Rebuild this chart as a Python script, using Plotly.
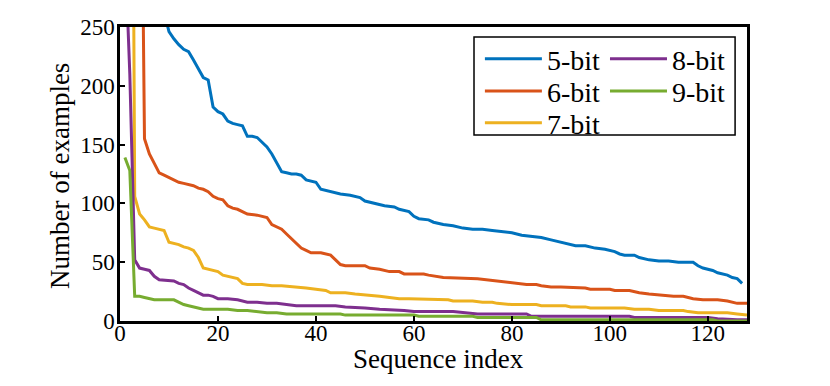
import plotly.graph_objects as go

# sequence index / number of examples (breakpoints of each curve)
x_5bit = [1, 2, 3, 4, 5, 6, 7, 8, 9, 10, 11, 12, 13, 14, 15, 16, 17, 18, 19, 20,
          21, 22, 23, 24, 25, 26, 27, 28, 29, 30, 31, 32, 33, 34, 35, 36, 37, 38, 39, 40,
          41, 42, 43, 45, 47, 49, 50, 52, 54, 56, 57, 59, 60, 61, 63, 64, 66, 68, 70, 72,
          74, 76, 78, 80, 82, 84, 86, 88, 90, 92, 93, 95, 97, 99, 101, 102, 103, 105, 106, 108,
          110, 112, 114, 117, 118, 119, 121, 122, 123, 124, 125, 126, 127]
y_5bit = [820, 640, 520, 430, 370, 330, 300, 280, 262, 246, 240, 235, 231, 229, 222, 215, 207, 205, 182, 178,
          176, 170, 168, 167, 166, 157, 157, 156, 152, 148, 142, 135, 127, 126, 125, 125, 124, 120, 119, 118,
          112, 111, 110, 108, 107, 105, 102, 100, 98, 97, 95, 93, 89, 87, 86, 84, 82, 81, 79, 78,
          78, 77, 76, 75, 73, 72, 71, 69, 67, 65, 64, 64, 62, 61, 59, 57, 56, 56, 54, 52,
          51, 51, 50, 50, 47, 45, 43, 41, 40, 39, 37, 36, 32]

x_6bit = [1, 2, 3, 4, 5, 6, 7, 8, 9, 10, 11, 12, 13, 15, 16, 17, 18, 19, 20, 21,
          22, 23, 24, 25, 26, 28, 29, 30, 31, 32, 33, 34, 35, 36, 37, 38, 39, 41, 42, 43,
          44, 45, 46, 50, 51, 53, 55, 57, 58, 62, 63, 65, 66, 73, 75, 76, 79, 81, 83, 85,
          86, 88, 90, 95, 96, 100, 101, 104, 106, 108, 111, 113, 115, 117, 119, 122, 124, 125, 126, 128]
y_6bit = [1500, 1100, 800, 560, 155, 142, 134, 126, 124, 122, 120, 118, 117, 115, 113, 112, 110, 106, 104, 103,
          98, 96, 95, 93, 91, 90, 89, 88, 82, 80, 78, 74, 70, 66, 62, 60, 58, 58, 57, 56,
          52, 48, 47, 47, 45, 44, 42, 42, 40, 40, 39, 38, 37, 36, 35, 34, 33, 32, 31, 31,
          30, 29, 29, 28, 27, 27, 26, 26, 24, 23, 22, 21, 21, 19, 18, 18, 17, 16, 15, 15]

x_7bit = [1, 2, 3, 4, 5, 6, 7, 8, 9, 10, 11, 12, 13, 14, 15, 16, 17, 18, 19, 20,
          21, 22, 23, 24, 25, 26, 29, 31, 33, 36, 38, 40, 42, 43, 46, 48, 51, 53, 55, 57,
          59, 67, 68, 72, 74, 76, 77, 80, 85, 86, 91, 92, 95, 96, 103, 105, 108, 110, 115, 116,
          118, 124, 126, 128]
y_7bit = [1300, 900, 106, 91, 86, 80, 79, 78, 77, 67, 66, 65, 63, 62, 60, 54, 45, 44, 43, 42,
          39, 38, 37, 36, 32, 31, 31, 30, 30, 29, 28, 27, 26, 24, 24, 23, 22, 21, 20, 19,
          19, 18, 17, 17, 16, 16, 15, 14, 14, 13, 13, 12, 12, 11, 11, 10, 10, 9, 9, 8,
          7, 7, 6, 5]

x_8bit = [1, 2, 3, 4, 5, 6, 7, 8, 11, 12, 13, 14, 15, 16, 17, 18, 19, 20, 22, 24,
          25, 26, 28, 30, 32, 34, 36, 44, 46, 50, 53, 58, 60, 68, 70, 73, 83, 84, 104, 105,
          120, 122, 126, 128]
y_8bit = [320, 210, 52, 45, 44, 43, 38, 35, 34, 32, 31, 28, 26, 24, 22, 22, 21, 19, 19, 18,
          17, 16, 16, 15, 15, 14, 13, 13, 12, 11, 10, 9, 8, 8, 7, 6, 6, 4, 4, 3,
          3, 2, 1, 1]

x_9bit = [1, 2, 3, 4, 5, 6, 7, 11, 12, 13, 14, 15, 16, 17, 22, 24, 26, 28, 30, 32,
          34, 45, 46, 60, 61, 72, 73, 85, 86, 121, 122, 128]
y_9bit = [139, 128, 21, 21, 20, 19, 18, 18, 16, 14, 13, 12, 11, 10, 10, 9, 9, 8, 7, 7,
          6, 6, 5, 5, 4, 4, 3, 3, 1, 1, 0, 0]

# (name, x, y, colour, legend slot) - one single-entry legend per slot, laid out in two columns
series = [
    ("5-bit", x_5bit, y_5bit, "#0072BD", "legend"),
    ("6-bit", x_6bit, y_6bit, "#D95319", "legend2"),
    ("7-bit", x_7bit, y_7bit, "#EDB120", "legend3"),
    ("8-bit", x_8bit, y_8bit, "#7E2F8E", "legend4"),
    ("9-bit", x_9bit, y_9bit, "#77AC30", "legend5"),
]

serif = "Liberation Serif"

fig = go.Figure()
for name, xs, ys, color, leg in series:
    fig.add_trace(go.Scatter(
        x=xs, y=ys, name=name, mode="lines",
        line=dict(color=color, width=3),
        legend=leg,
    ))

axis_style = dict(
    showline=True, linecolor="black", linewidth=2.5, mirror=True,
    ticks="inside", ticklen=5, tickwidth=2, tickcolor="black",
    showgrid=False, zeroline=False, automargin=False,
    tickfont=dict(family=serif, size=23, color="black"),
)

legend_style = dict(
    orientation="v", xanchor="left", yanchor="top",
    bgcolor="rgba(0,0,0,0)", borderwidth=0,
    font=dict(family=serif, size=28, color="black"),
    itemwidth=57, tracegroupgap=0,
)

col1, col2 = 0.574, 0.7735
row1, row2, row3 = 0.976, 0.8664, 0.758

# page body has an 8px margin, so margins are shifted by 8px
fig.update_layout(
    width=830, height=386,
    margin=dict(l=112, r=91, t=19, b=73),
    paper_bgcolor="white", plot_bgcolor="white",
    font=dict(family=serif, color="black"),
    showlegend=True,
    xaxis=dict(range=[0, 128], tickvals=[0, 20, 40, 60, 80, 100, 120],
               ticklabelstandoff=-10, **axis_style),
    yaxis=dict(range=[0, 250], tickvals=[0, 50, 100, 150, 200, 250],
               ticklabelstandoff=-2, **axis_style),
    legend=dict(x=col1, y=row1, **legend_style),
    legend2=dict(x=col1, y=row2, **legend_style),
    legend3=dict(x=col1, y=row3, **legend_style),
    legend4=dict(x=col2, y=row1, **legend_style),
    legend5=dict(x=col2, y=row2, **legend_style),
    shapes=[dict(type="rect", xref="paper", yref="paper",
                 x0=0.5646, x1=0.981, y0=0.633, y1=0.966,
                 line=dict(color="black", width=1.5), fillcolor="white", layer="above")],
    annotations=[
        dict(text="Sequence index", xref="paper", yref="paper", x=0.508, y=-0.128,
             xanchor="center", yanchor="middle", showarrow=False,
             font=dict(family=serif, size=27, color="black")),
        dict(text="Number of examples", xref="paper", yref="paper", x=-0.0957, y=0.493,
             xanchor="center", yanchor="middle", showarrow=False, textangle=-90,
             font=dict(family=serif, size=27, color="black")),
    ],
)

fig.write_html("out.html")
